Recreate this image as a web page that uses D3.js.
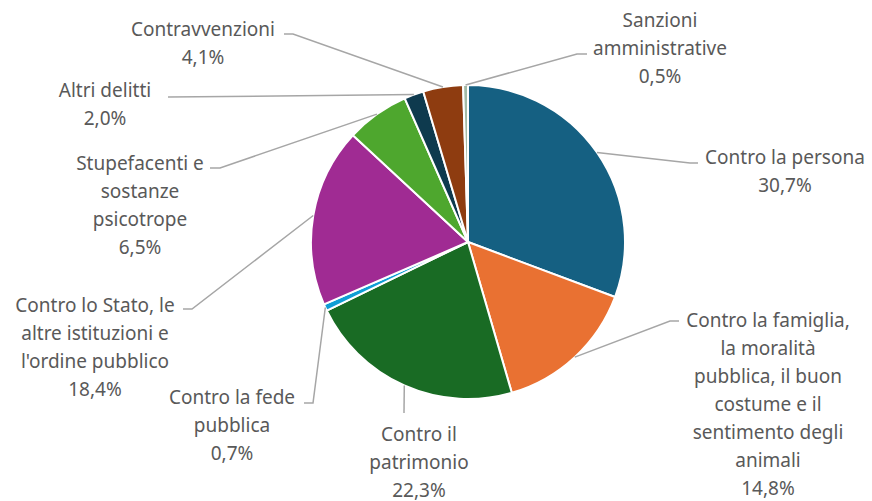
<!DOCTYPE html>
<html>
<head>
<meta charset="utf-8">
<script src="https://cdn.jsdelivr.net/npm/d3@7"></script>
<style>
  html, body { margin: 0; padding: 0; background: #fff; }
  svg { display: block; }
  .lbl { font-family: "Noto Sans", sans-serif; font-size: 19px; fill: #595959; }
</style>
</head>
<body>
<div id="chart"></div>
<script>
// categories and shares (percent)
const categories = [
  ["Contro la persona"],
  ["Contro la famiglia,", "la moralità", "pubblica, il buon", "costume e il", "sentimento degli", "animali"],
  ["Contro il", "patrimonio"],
  ["Contro la fede", "pubblica"],
  ["Contro lo Stato, le", "altre istituzioni e", "l'ordine pubblico"],
  ["Stupefacenti e", "sostanze", "psicotrope"],
  ["Altri delitti"],
  ["Contravvenzioni"],
  ["Sanzioni", "amministrative"]
];
const values = [30.7, 14.8, 22.3, 0.7, 18.4, 6.5, 2.0, 4.1, 0.5];
const colors = ["#156082", "#E97132", "#196B24", "#0F9ED5", "#A02B93", "#4EA72E", "#0E3A4E", "#8E3C10", "#a3bba6"];

// label layout: text centre x, first line centre y, leader elbow and end
const labelLayout = [
  { cx: 785, y0: 157, elbow: [690, 163], end: [698, 163] },
  { cx: 768, y0: 320, elbow: [670, 321], end: [679, 321] },
  { cx: 419, y0: 434, elbow: [404, 413], end: [404, 413] },
  { cx: 232, y0: 397, elbow: [313, 403], end: [304, 403] },
  { cx: 95,  y0: 305, elbow: [192, 309], end: [183, 309] },
  { cx: 140, y0: 163, elbow: [220, 168], end: [210, 168] },
  { cx: 105, y0: 90,  elbow: [168, 97],  end: [168, 97] },
  { cx: 203, y0: 29,  elbow: [293, 34],  end: [284, 34] },
  { cx: 660, y0: 20,  elbow: [577, 54],  end: [587, 54] }
];

const width = 872, height = 501;
const cx = 468, cy = 242, radius = 157;
const lineH = 28;
const fmt = v => v.toFixed(1).replace(".", ",") + "%";

const svg = d3.select("#chart").append("svg")
  .attr("width", width)
  .attr("height", height);

const data = values.map((v, i) => ({ value: v, name: categories[i], color: colors[i], layout: labelLayout[i] }));

const pie = d3.pie().value(d => d.value).sort(null);
const arcs = pie(data);
const arc = d3.arc().innerRadius(0).outerRadius(radius);
const edge = d3.arc().innerRadius(radius).outerRadius(radius);

const g = svg.append("g").attr("transform", `translate(${cx},${cy})`);

// leader lines
svg.append("g").selectAll("polyline")
  .data(arcs)
  .enter().append("polyline")
  .attr("fill", "none")
  .attr("stroke", "#a6a6a6")
  .attr("stroke-width", 1.5)
  .attr("points", d => {
    const [sx, sy] = edge.centroid(d);
    const L = d.data.layout;
    return [[sx + cx, sy + cy], L.elbow, L.end].map(p => p.join(",")).join(" ");
  });

g.selectAll("path")
  .data(arcs)
  .enter().append("path")
  .attr("d", arc)
  .attr("fill", d => d.data.color)
  .attr("stroke", "#fff")
  .attr("stroke-width", 2)
  .attr("stroke-linejoin", "round");

// labels
const labels = svg.append("g").selectAll("text")
  .data(arcs)
  .enter().append("text")
  .attr("class", "lbl")
  .attr("text-anchor", "middle");

labels.each(function(d) {
  const L = d.data.layout;
  const lines = d.data.name.concat([fmt(d.data.value)]);
  d3.select(this).selectAll("tspan")
    .data(lines)
    .enter().append("tspan")
    .attr("x", L.cx)
    .attr("y", (t, i) => L.y0 + i * lineH)
    .attr("dy", "0.35em")
    .text(t => t);
});
</script>
</body>
</html>
